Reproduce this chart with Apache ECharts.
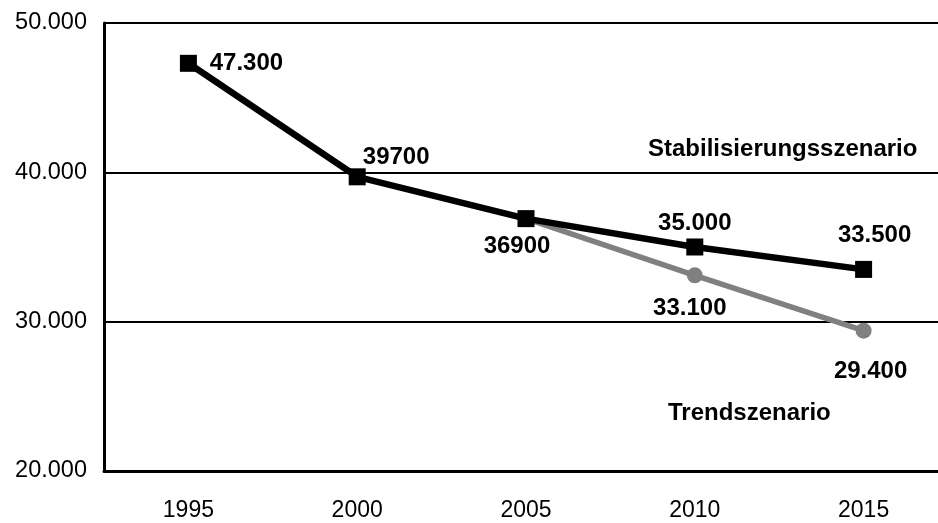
<!DOCTYPE html>
<html>
<head>
<meta charset="utf-8">
<script src="https://cdn.jsdelivr.net/npm/echarts@6/dist/echarts.min.js"></script>
<style>
html,body{margin:0;padding:0;background:#fff;}
#chart{width:938px;height:523px;}
</style>
</head>
<body>
<div id="chart"></div>
<script>
var years = ['1995', '2000', '2005', '2010', '2015'];
var stabValues = [47300, 39700, 36900, 35000, 33500];
var stabLabels = ['47.300', '39700', '36900', '35.000', '33.500'];
var trendValues = [null, null, 36900, 33100, 29400];
var trendLabels = ['', '', '', '33.100', '29.400'];
var yTicks = [20000, 30000, 40000, 50000];

var stabOffsets = [[58, 0], [39, -19], [-9, 28], [0, -24], [11, -34]];
var trendOffsets = [[0, 0], [0, 0], [0, 0], [-5, 33], [7, 41]];

var FONT = "'Liberation Sans', Arial, Helvetica, sans-serif";
var labelStyle = { fontFamily: FONT, fontWeight: 'bold', fontSize: 24, color: '#000' };

function fmt(v) {
  var s = String(Math.round(v));
  return s.replace(/\B(?=(\d{3})+(?!\d))/g, '.');
}

var stabData = stabValues.map(function (v, i) {
  return {
    value: v,
    label: Object.assign({ show: true, position: 'inside', offset: stabOffsets[i],
      formatter: stabLabels[i] }, labelStyle)
  };
});
var trendData = trendValues.map(function (v, i) {
  return {
    value: v,
    symbolSize: i === 2 ? 0 : 16,
    label: Object.assign({ show: trendLabels[i] !== '', position: 'inside', offset: trendOffsets[i],
      formatter: trendLabels[i] }, labelStyle)
  };
});

var chart = echarts.init(document.getElementById('chart'), null, { renderer: 'canvas' });
chart.setOption({
  animation: false,
  backgroundColor: '#fff',
  grid: { left: 104, top: 23, width: 844, height: 448, containLabel: false, outerBoundsMode: 'none' },
  xAxis: {
    type: 'category',
    data: years,
    boundaryGap: true,
    axisLine: { show: true, lineStyle: { color: '#000', width: 3 } },
    axisTick: { show: false },
    axisLabel: { fontFamily: FONT, fontSize: 23, color: '#000', margin: 28 },
    splitLine: { show: false }
  },
  yAxis: {
    type: 'value',
    min: yTicks[0],
    max: yTicks[yTicks.length - 1],
    interval: 10000,
    axisLine: { show: true, lineStyle: { color: '#000', width: 3 } },
    axisTick: { show: false },
    axisLabel: { fontFamily: FONT, fontSize: 23.5, color: '#000', margin: 17, formatter: fmt },
    splitLine: { show: true, lineStyle: { color: '#000', width: 2 } }
  },
  series: [
    {
      name: 'Trendszenario',
      type: 'line',
      data: trendData,
      symbol: 'circle',
      symbolSize: 16,
      lineStyle: { color: '#808080', width: 5.5 },
      itemStyle: { color: '#808080' },
      z: 2
    },
    {
      name: 'Stabilisierungsszenario',
      type: 'line',
      data: stabData,
      symbol: 'rect',
      symbolSize: 17,
      lineStyle: { color: '#000', width: 6.5 },
      itemStyle: { color: '#000' },
      z: 3
    }
  ],
  graphic: [
    { type: 'text', left: 648, top: 137, z: 10,
      style: { text: 'Stabilisierungsszenario', font: 'bold 24px ' + FONT, fill: '#000' } },
    { type: 'text', left: 668, top: 401, z: 10,
      style: { text: 'Trendszenario', font: 'bold 24px ' + FONT, fill: '#000' } }
  ]
});
</script>
</body>
</html>
